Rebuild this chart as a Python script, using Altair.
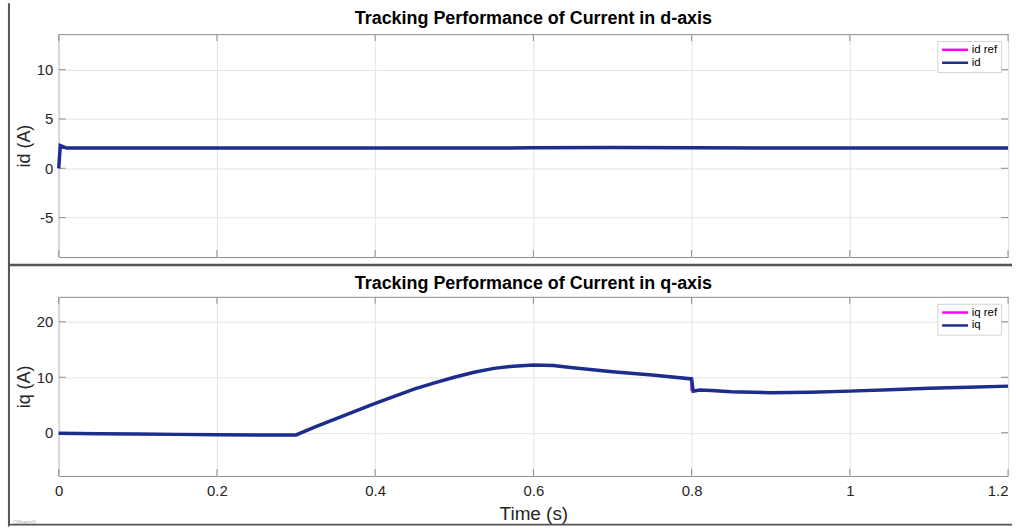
import altair as alt
import pandas as pd

# ---------------- data ----------------
x_ticks = [0.0, 0.2, 0.4, 0.6, 0.8, 1.0, 1.2]
id_ticks = [-5, 0, 5, 10]
iq_ticks = [0, 10, 20]

t_id_ref = [0.0, 1.2]
id_ref = [2.05, 2.05]
t_id = [0.0, 0.002, 0.01, 0.1, 0.2, 0.3, 0.4, 0.5, 0.6, 0.7, 0.8, 0.9, 1.0, 1.1, 1.2]
id_meas = [0.0, 2.3, 2.05, 2.05, 2.05, 2.05, 2.05, 2.05, 2.07, 2.1, 2.08, 2.05, 2.05, 2.05, 2.05]

t_iq_ref = [0.0, 0.05, 0.1, 0.15, 0.2, 0.25, 0.3, 0.325, 0.35, 0.375, 0.4, 0.425, 0.45,
            0.475, 0.5, 0.525, 0.55, 0.575, 0.6, 0.625, 0.65, 0.7, 0.75, 0.7995, 0.7996,
            0.825, 0.85, 0.9, 0.95, 1.0, 1.05, 1.1, 1.15, 1.2]
iq_ref = [-0.1, -0.2, -0.25, -0.3, -0.35, -0.4, -0.4, 1.1, 2.5, 3.9, 5.3, 6.6, 7.9,
          9.0, 10.0, 10.9, 11.6, 12.0, 12.2, 12.1, 11.7, 11.0, 10.4, 9.8, 7.7,
          7.6, 7.4, 7.2, 7.3, 7.5, 7.75, 8.0, 8.2, 8.4]
t_iq = [0.0, 0.05, 0.1, 0.15, 0.2, 0.25, 0.3, 0.325, 0.35, 0.375, 0.4, 0.425, 0.45,
        0.475, 0.5, 0.525, 0.55, 0.575, 0.6, 0.625, 0.65, 0.7, 0.75, 0.8, 0.802, 0.81,
        0.825, 0.85, 0.9, 0.95, 1.0, 1.05, 1.1, 1.15, 1.2]
iq_meas = [-0.1, -0.2, -0.25, -0.3, -0.35, -0.4, -0.4, 1.1, 2.5, 3.9, 5.3, 6.6, 7.9,
           9.0, 10.0, 10.9, 11.6, 12.0, 12.2, 12.1, 11.7, 11.0, 10.4, 9.7, 7.5, 7.7,
           7.6, 7.4, 7.2, 7.3, 7.5, 7.75, 8.0, 8.2, 8.4]

titles = ["Tracking Performance of Current in d-axis",
          "Tracking Performance of Current in q-axis"]

# ---------------- style ----------------
FONT = "Liberation Sans"
MAGENTA = "#ff00ff"
NAVY = "#1c2e8c"
TICKC = "#8c8c8c"
BORDER = "#555555"
W, H1, H2 = 954, 224, 180
TL = 7  # inward tick length

one = pd.DataFrame({"a": [0]})


def panel(t_ref, v_ref, t_m, v_m, ref_name, meas_name, ydom, yticks, ytitle, title,
          height, bottom, title_y):
    df = pd.concat([
        pd.DataFrame({"t": t_ref, "v": v_ref, "series": ref_name}),
        pd.DataFrame({"t": t_m, "v": v_m, "series": meas_name}),
    ])
    x_axis = alt.Axis(values=x_ticks, format="~g", grid=True, labels=bottom,
                      labelPadding=8, titlePadding=6, tickSize=0, domain=False,
                      titleFontSize=19,
                      labelAlign={"condition": {"test": "datum.value >= 1.19",
                                                "value": "right"},
                                  "value": "center"},
                      title="Time (s)" if bottom else "")
    x_enc = alt.X("t:Q", scale=alt.Scale(domain=[0, 1.2], nice=False, zero=False),
                  axis=x_axis)
    y_enc = alt.Y("v:Q", scale=alt.Scale(domain=ydom, nice=False, zero=False),
                  axis=alt.Axis(values=yticks, grid=True, tickSize=0, domain=False,
                                labelExpr="datum.value + ''",
                                labelPadding=6, titlePadding=3, title=ytitle))
    color = alt.Color("series:N",
                      scale=alt.Scale(domain=[ref_name, meas_name], range=[MAGENTA, NAVY]),
                      legend=alt.Legend(title=None, orient="top-right", offset=7,
                                        fillColor="white", strokeColor="#d4d4d4",
                                        padding=3, symbolType="M-3.25,0L3.25,0",
                                        symbolSize=64, symbolOffset=9,
                                        symbolStrokeWidth=2.5, labelFontSize=11.5,
                                        labelFont=FONT, labelColor="#000000",
                                        rowPadding=0, labelOffset=11))
    ref_line = alt.Chart(df).transform_filter(
        alt.datum.series == ref_name).mark_line(strokeWidth=2).encode(
        x=x_enc, y=y_enc, color=color)
    meas_line = alt.Chart(df).transform_filter(
        alt.datum.series == meas_name).mark_line(strokeWidth=3.5).encode(
        x=x_enc, y=y_enc, color=color)

    xt = pd.DataFrame({"t": x_ticks})
    yt = pd.DataFrame({"v": yticks})
    tick_top = alt.Chart(xt).mark_rule(color=TICKC).encode(x=x_enc, y=alt.value(0), y2=alt.value(TL))
    tick_bot = alt.Chart(xt).mark_rule(color=TICKC).encode(x=x_enc, y=alt.value(height), y2=alt.value(height - TL))
    tick_l = alt.Chart(yt).mark_rule(color=TICKC).encode(y=y_enc, x=alt.value(0), x2=alt.value(TL))
    tick_r = alt.Chart(yt).mark_rule(color=TICKC).encode(y=y_enc, x=alt.value(W), x2=alt.value(W - TL))

    title_mark = alt.Chart(one).mark_text(
        text=title, font=FONT, fontSize=18, fontWeight="bold", color="#000000",
        align="center", baseline="middle").encode(
        x=alt.value(W / 2), y=alt.value(title_y))

    layers = [tick_top, tick_bot, tick_l, tick_r, ref_line, meas_line, title_mark]
    if not bottom:
        layers += [
            alt.Chart(one).mark_rule(color="white", strokeWidth=1).encode(
                x=alt.value(-57.5), y=alt.value(-31), y2=alt.value(495)),
            alt.Chart(one).mark_rule(color="white", strokeWidth=1).encode(
                y=alt.value(-30.5), x=alt.value(-58), x2=alt.value(958)),
            alt.Chart(one).mark_rule(color="white", strokeWidth=1).encode(
                x=alt.value(957.5), y=alt.value(-31), y2=alt.value(100)),
            alt.Chart(one).mark_rule(color=BORDER, strokeWidth=2).encode(
                x=alt.value(-50), y=alt.value(-31), y2=alt.value(495)),
            alt.Chart(one).mark_rule(color=BORDER, strokeWidth=2.5).encode(
                y=alt.value(232), x=alt.value(-50), x2=alt.value(958)),
        ]
    else:
        layers += [
            alt.Chart(one).mark_rule(color=BORDER, strokeWidth=2).encode(
                y=alt.value(229), x=alt.value(-50), x2=alt.value(958)),
            alt.Chart(one).mark_rule(color="white", strokeWidth=1).encode(
                y=alt.value(230.5), x=alt.value(-50), x2=alt.value(958)),
            alt.Chart(one).mark_text(text="Offset=0", fontSize=6, color="#b0b0b0",
                                     align="left", font=FONT).encode(
                x=alt.value(-46), y=alt.value(226)),
        ]
    return alt.layer(*layers).properties(width=W, height=height)


top = panel(t_id_ref, id_ref, t_id, id_meas, "id ref", "id", [-9, 13.6], id_ticks,
            "id (A)", titles[0], H1, False, -15)
bot = panel(t_iq_ref, iq_ref, t_iq, iq_meas, "iq ref", "iq", [-7.8, 24.5], iq_ticks,
            "iq (A)", titles[1], H2, True, -13)

chart = alt.vconcat(top, bot, spacing=40, bounds="flush").resolve_scale(
    color="independent", x="independent", y="independent"
).resolve_legend(color="independent").properties(
    padding=0, background="white"
).configure_view(
    stroke="#8c8c8c", strokeWidth=1
).configure_axis(
    labelFont=FONT, labelFontSize=15, labelColor="#262626",
    titleFont=FONT, titleFontSize=18, titleFontWeight="normal", titleColor="#262626",
    gridColor="#e3e3e3", gridWidth=1
)

chart.save("out.html", embed_options={"renderer": "svg", "actions": False})
